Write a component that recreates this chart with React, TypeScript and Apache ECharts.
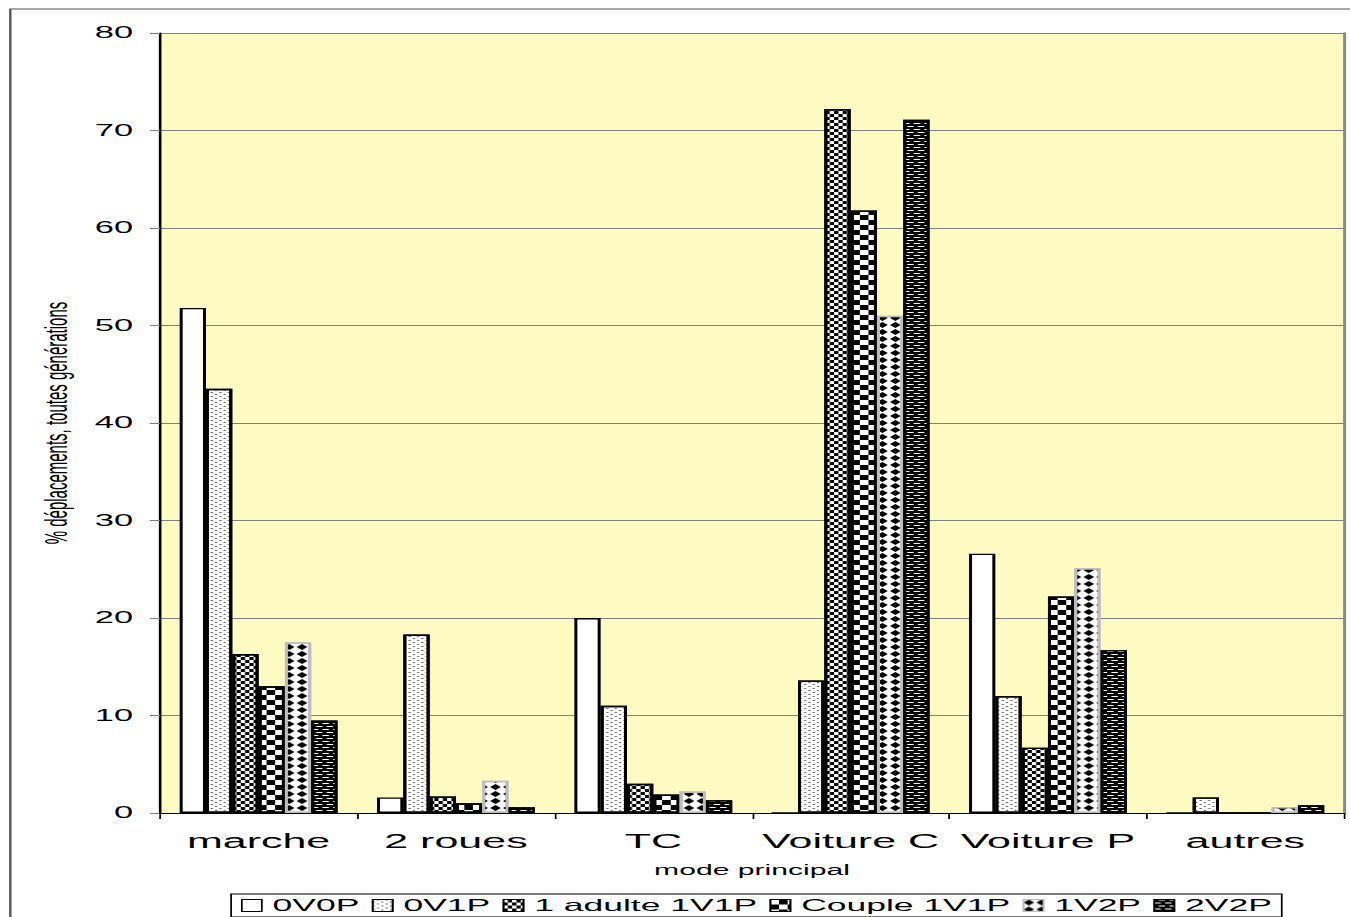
import React, { useEffect, useRef } from "react";
import * as echarts from "echarts";

// ---- data ----
const categories = ["marche", "2 roues", "TC", "Voiture C", "Voiture P", "autres"];
const seriesNames = ["0V0P", "0V1P", "1 adulte 1V1P", "Couple 1V1P", "1V2P", "2V2P"];
const values0V0P = [51.8, 1.6, 20.0, 0, 26.6, 0];
const values0V1P = [43.5, 18.3, 11.0, 13.6, 12.0, 1.6];
const values1Adulte1V1P = [16.3, 1.7, 3.0, 72.2, 6.7, 0];
const valuesCouple1V1P = [13.0, 1.0, 1.9, 61.8, 22.2, 0];
const values1V2P = [17.5, 3.3, 2.2, 51.0, 25.1, 0.6];
const values2V2P = [9.5, 0.6, 1.3, 71.1, 16.7, 0.8];
const yMin = 0;
const yMax = 80;
const yInterval = 10;
const yAxisTitle = "% déplacements, toutes générations";
const xAxisTitle = "mode principal";

// The reference is horizontally stretched; we draw at a narrower width and stretch.
const PRE_W = 628;
const SCALE_X = 1350 / PRE_W;
const FONT = "'Liberation Sans', Arial, Helvetica, sans-serif";

const seriesValues = [values0V0P, values0V1P, values1Adulte1V1P, valuesCouple1V1P, values1V2P, values2V2P];

const seriesStyles: any[] = [
  { color: "#ffffff", borderColor: "#000000" },
  {
    color: "#ffffff",
    borderColor: "#000000",
    decal: {
      symbol: "rect",
      symbolSize: 1,
      color: "#6a6a6a",
      dashArrayX: [[1, 3], [0, 2, 1, 1]],
      dashArrayY: [1, 1],
    },
  },
  {
    color: "#ffffff",
    borderColor: "#000000",
    decal: {
      symbol: "rect",
      symbolSize: 1,
      color: "#000000",
      dashArrayX: [[2, 2], [0, 2, 2, 0]],
      dashArrayY: [3, 0],
    },
  },
  {
    color: "#ffffff",
    borderColor: "#000000",
    decal: {
      symbol: "rect",
      symbolSize: 1,
      color: "#000000",
      dashArrayX: [[4, 4], [0, 4, 4, 0]],
      dashArrayY: [5, 0],
    },
  },
  {
    color: "#ffffff",
    borderColor: "#bdbdbd",
    decal: {
      symbol: "diamond",
      symbolSize: 1,
      symbolKeepAspect: false,
      color: "#000000",
      dashArrayX: [5, 1],
      dashArrayY: [6, 1],
    },
  },
  {
    color: "#000000",
    borderColor: "#000000",
    decal: {
      symbol: "rect",
      symbolSize: 1,
      color: "#ffffff",
      dashArrayX: [[3, 2], [0, 2, 3, 0]],
      dashArrayY: [1, 2],
    },
  },
];

export default function App() {
  const ref = useRef<HTMLDivElement>(null);

  useEffect(() => {
    if (!ref.current) return;
    const chart = echarts.init(ref.current, null, { renderer: "svg" });

    const series = seriesNames.map((name, i) => ({
      name,
      type: "bar",
      data: seriesValues[i],
      barGap: "0%",
      barCategoryGap: "20%",
      itemStyle: { ...seriesStyles[i], borderWidth: 1.4 },
      emphasis: { disabled: true },
    }));

    const option: any = {
      animation: false,
      backgroundColor: "#ffffff",
      textStyle: { fontFamily: FONT, color: "#000" },
      graphic: [
        {
          type: "rect",
          shape: { x: 4.8, y: 9, width: 800, height: 1200 },
          style: { fill: "none", stroke: "#555555", lineWidth: 1.1 },
          silent: true,
          z: 0,
        },
      ],
      grid: {
        left: 74.4,
        right: 2.8,
        top: 33,
        bottom: 104,
        show: true,
        backgroundColor: "#fdfbc2",
        borderWidth: 0,
      },
      legend: {
        data: seriesNames,
        left: 107.5,
        top: 894,
        orient: "horizontal",
        padding: [3, 4.6, 3, 4.6],
        itemWidth: 9.3,
        itemHeight: 12,
        itemGap: 5.8,
        borderColor: "#000000",
        borderWidth: 0.8,
        icon: "rect",
        itemStyle: { borderWidth: 0.8 },
        textStyle: { fontFamily: FONT, fontSize: 16.5, color: "#000" },
        selectedMode: false,
      },
      xAxis: {
        type: "category",
        data: categories,
        name: xAxisTitle,
        nameLocation: "middle",
        nameGap: 50,
        nameTextStyle: { fontFamily: FONT, fontSize: 14, color: "#000" },
        axisLine: { show: true, lineStyle: { color: "#000000", width: 1 } },
        axisTick: { show: true, length: 6, interval: 0, lineStyle: { color: "#000000", width: 0.8 } },
        axisLabel: { fontFamily: FONT, fontSize: 20, color: "#000", margin: 18, interval: 0 },
        splitLine: { show: false },
      },
      yAxis: [
        {
          type: "value",
          min: yMin,
          max: yMax,
          interval: yInterval,
          name: yAxisTitle,
          nameLocation: "middle",
          nameGap: 39,
          nameRotate: 90,
          nameTextStyle: { fontFamily: FONT, fontSize: 15, color: "#000" },
          axisLine: { show: true, lineStyle: { color: "#000000", width: 1.2 } },
          axisTick: { show: true, length: 4.65, lineStyle: { color: "#808080", width: 1 } },
          axisLabel: { fontFamily: FONT, fontSize: 16, color: "#000", margin: 12.5 },
          splitLine: { show: true, lineStyle: { color: "#808080", width: 1 } },
        },
        {
          type: "value",
          min: yMin,
          max: yMax,
          interval: yInterval,
          position: "right",
          axisLine: { show: true, lineStyle: { color: "#8a8a8a", width: 1.4 } },
          axisTick: { show: false },
          axisLabel: { show: false },
          splitLine: { show: false },
        },
      ],
      series,
    };

    chart.setOption(option);
    return () => {
      chart.dispose();
    };
  }, []);

  return (
    <div
      ref={ref}
      style={{
        position: "absolute",
        left: 0,
        top: 0,
        width: PRE_W,
        height: 917,
        transform: `scaleX(${SCALE_X})`,
        transformOrigin: "0 0",
      }}
    />
  );
}
